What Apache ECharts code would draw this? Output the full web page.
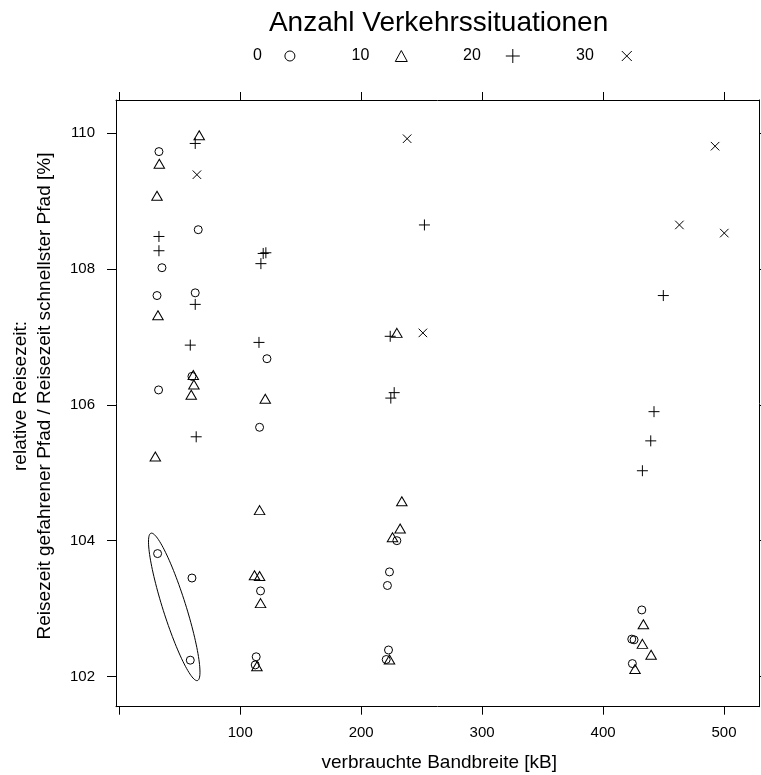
<!DOCTYPE html>
<html><head><meta charset="utf-8">
<script src="https://cdn.jsdelivr.net/npm/echarts@6/dist/echarts.min.js"></script>
<style>html,body{margin:0;padding:0;background:#fff}#c{width:761px;height:775px}</style>
</head><body><div id="c"></div>
<script>
// ---- data ----
const legendTitle = 'Anzahl Verkehrssituationen';
const xTitle = 'verbrauchte Bandbreite [kB]';
const yTitle1 = 'relative Reisezeit:';
const yTitle2 = 'Reisezeit gefahrener Pfad / Reisezeit schnellster Pfad [%]';
const groupNames = ['0', '10', '20', '30'];
const xTicks = [0, 100, 200, 300, 400, 500];
const xTickLabels = [100, 200, 300, 400, 500];
const yTicks = [102, 104, 106, 108, 110];
const xRange = [-2.7, 528.9];
const yRange = [101.555, 110.49];

// [verbrauchte Bandbreite kB, relative Reisezeit %]
const points0 = [[32.8,109.73],[35.3,108.02],[31.2,107.61],[65.3,108.58],[62.8,107.65],[60.1,106.42],[32.5,106.22],
  [122.1,106.68],[116.0,105.67],[31.7,103.81],[60.1,103.45],[58.7,102.24],[116.8,103.26],[113.2,102.29],[112.4,102.17],
  [229.5,104.00],[223.4,103.54],[221.7,103.34],[222.6,102.39],[220.7,102.25],[432.0,102.98],[423.7,102.55],[425.6,102.54],[424.2,102.19]];
const points10 = [[33.1,109.55],[31.2,109.08],[66.1,109.97],[32.0,107.32],[61.2,106.44],[61.7,106.30],[59.5,106.15],[29.8,105.24],
  [120.7,106.09],[116.0,104.45],[111.8,103.49],[116.0,103.48],[116.8,103.08],[113.8,102.15],[229.5,107.06],[233.6,104.58],
  [232.2,104.18],[225.9,104.05],[223.4,102.25],[433.3,102.77],[432.5,102.48],[439.7,102.32],[426.4,102.11]];
const points20 = [[32.8,108.48],[32.8,108.27],[62.8,109.85],[62.8,107.48],[58.7,106.88],[63.6,105.53],[121.2,108.24],[119.0,108.23],
  [117.1,108.08],[115.5,106.92],[252.3,108.65],[224.0,107.01],[227.3,106.18],[224.5,106.10],[449.8,107.61],[442.1,105.90],
  [439.4,105.47],[432.5,105.03]];
const points30 = [[64.2,109.39],[238.0,109.92],[251.0,107.06],[492.6,109.81],[463.1,108.65],[500.2,108.53]];
// ellipse annotation: ends of its long axis
const ellipseAxis = [[26.2,104.11],[64.7,101.94]];

// ---- styles ----
const FONT = '"Liberation Sans", Helvetica, Arial, sans-serif';
const SYMBOLS = ['circle', 'triangle', 'path://M0,5L10,5M5,0L5,10', 'path://M0,0L10,10M10,0L0,10'];
const SIZES = [8, [10.5, 9], 11, 8.5];
const LEG = [
  {left: 248, w: 10, h: 10, pad: 18},
  {left: 346.5, w: 12, h: 11, pad: 21},
  {left: 458, w: 14, h: 14, pad: 20},
  {left: 571, w: 10, h: 10, pad: 23}
];
const ELLIPSE_HALF_WIDTH = 11.5;
const lineStyle = {color: '#000', width: 1};
const hollow = {color: 'rgba(0,0,0,0)', borderColor: '#000', borderWidth: 1, opacity: 1};

const allPoints = [points0, points10, points20, points30];
const chart = echarts.init(document.getElementById('c'), null, {renderer: 'canvas'});

const scatterSeries = groupNames.map((n, i) => ({
  name: n, type: 'scatter', data: allPoints[i], symbol: SYMBOLS[i], symbolSize: SIZES[i],
  itemStyle: hollow, silent: true, emphasis: {disabled: true}, z: 3
}));

const option = {
  animation: false,
  backgroundColor: '#fff',
  textStyle: {fontFamily: FONT},
  grid: {left: 116, right: 2, top: 100, bottom: 68.3, containLabel: false},
  legend: groupNames.map((n, i) => ({
    data: [{name: n, icon: SYMBOLS[i]}],
    left: LEG[i].left, top: 43, align: 'right', orient: 'horizontal',
    itemWidth: LEG[i].w, itemHeight: LEG[i].h, selectedMode: false,
    itemStyle: hollow,
    textStyle: {fontSize: 16, fontFamily: FONT, color: '#000', padding: [0, LEG[i].pad, 0, 0]}
  })),
  xAxis: [
    {type: 'value', position: 'bottom', min: xRange[0], max: xRange[1],
     axisLine: {show: true, onZero: false, lineStyle},
     axisTick: {show: true, inside: false, length: 8, lineStyle, customValues: xTicks},
     axisLabel: {show: true, color: '#000', fontSize: 15, fontFamily: FONT, margin: 19, customValues: xTickLabels},
     splitLine: {show: false}},
    {type: 'value', position: 'top', min: xRange[0], max: xRange[1],
     axisLine: {show: true, onZero: false, lineStyle},
     axisTick: {show: true, inside: false, length: 8, lineStyle, customValues: xTicks},
     axisLabel: {show: false}, splitLine: {show: false}}
  ],
  yAxis: [
    {type: 'value', position: 'left', min: yRange[0], max: yRange[1],
     axisLine: {show: true, onZero: false, lineStyle},
     axisTick: {show: true, inside: false, length: 9, lineStyle, customValues: yTicks},
     axisLabel: {show: true, color: '#000', fontSize: 15, fontFamily: FONT, margin: 21, customValues: yTicks},
     splitLine: {show: false}},
    {type: 'value', position: 'right', min: yRange[0], max: yRange[1],
     axisLine: {show: true, onZero: false, lineStyle},
     axisTick: {show: true, inside: false, length: 9, lineStyle, customValues: yTicks},
     axisLabel: {show: false}, splitLine: {show: false}}
  ],
  graphic: [
    {type: 'text', x: 438.6, y: 23, silent: true,
     style: {text: legendTitle, font: '28px ' + FONT, fill: '#000', align: 'center', verticalAlign: 'middle'}},
    {type: 'text', x: 439.3, y: 763, silent: true,
     style: {text: xTitle, font: '19px ' + FONT, fill: '#000', align: 'center', verticalAlign: 'middle'}},
    {type: 'text', x: 21, y: 396, rotation: Math.PI / 2, silent: true,
     style: {text: yTitle1, font: '19px ' + FONT, fill: '#000', align: 'center', verticalAlign: 'middle'}},
    {type: 'text', x: 45, y: 396, rotation: Math.PI / 2, silent: true,
     style: {text: yTitle2, font: '19px ' + FONT, fill: '#000', align: 'center', verticalAlign: 'middle'}}
  ],
  series: scatterSeries.concat([{
    type: 'custom', coordinateSystem: 'cartesian2d', silent: true, z: 2,
    data: [[ellipseAxis[0][0], ellipseAxis[0][1], ellipseAxis[1][0], ellipseAxis[1][1]]],
    encode: {x: [0, 2], y: [1, 3]},
    renderItem: function (params, api) {
      const a = api.coord([api.value(0), api.value(1)]);
      const b = api.coord([api.value(2), api.value(3)]);
      const cx = (a[0] + b[0]) / 2, cy = (a[1] + b[1]) / 2;
      const dx = (a[0] - b[0]) / 2, dy = (a[1] - b[1]) / 2;
      const R = Math.hypot(dx, dy), ang = Math.atan2(dy, dx), r = ELLIPSE_HALF_WIDTH;
      const pts = [];
      for (let k = 0; k < 120; k++) {
        const t = k / 120 * 2 * Math.PI;
        const u = R * Math.cos(t), v = r * Math.sin(t);
        pts.push([cx + u * Math.cos(ang) - v * Math.sin(ang), cy + u * Math.sin(ang) + v * Math.cos(ang)]);
      }
      return {type: 'polygon', shape: {points: pts}, style: {fill: 'none', stroke: '#000', lineWidth: 1}};
    }
  }])
};
chart.setOption(option);
</script>
</body></html>
